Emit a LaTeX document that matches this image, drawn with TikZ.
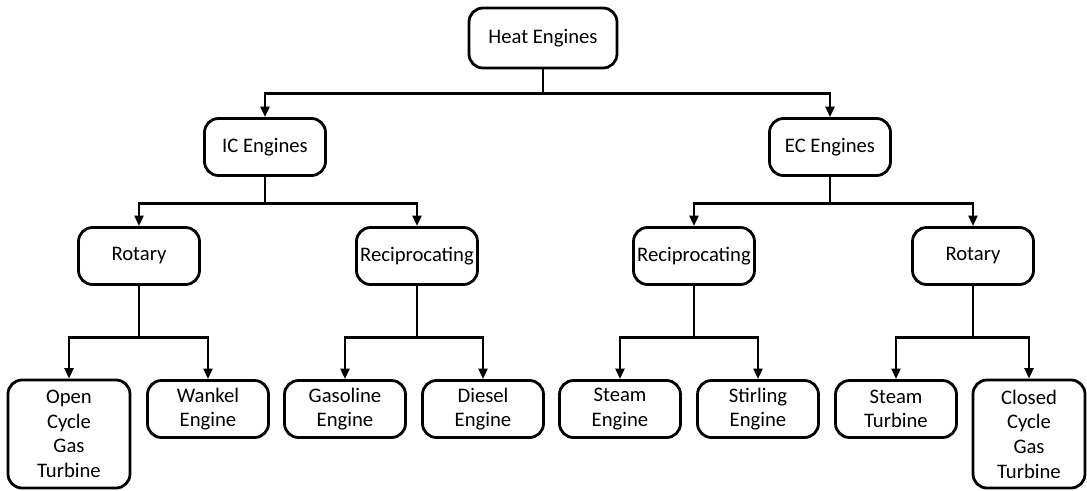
\documentclass[tikz,border=0pt]{standalone}
\usepackage{fontspec}
\setmainfont{Carlito}
\usetikzlibrary{arrows.meta,positioning}
\tikzset{
  >={Triangle[length=2.6mm,width=2.2mm]},
  box/.style={draw=black,line width=0.7mm,rounded corners=3.5mm,fill=white,
    minimum width=30.25mm,minimum height=14.25mm,align=center,inner sep=0pt,
    font=\fontsize{14.7}{17.5}\selectfont},
  tall box/.style={box,minimum height=27mm,minimum width=#1},
  tall box/.default=30.5mm,
  flow/.style={->,line width=0.7mm},
}
\begin{document}
\begin{tikzpicture}[x=0.25mm,y=-0.25mm]
  \useasboundingbox (0,0) rectangle (1087,490);
  % levels
  \node[box,minimum width=37mm,minimum height=15mm] (heat) at (543,38) {Heat Engines};
  \node[box] (ic) at (265,147) {IC Engines};
  \node[box] (ec) at (830,147) {EC Engines};
  \foreach \n/\x/\t in {rotL/139/Rotary,recL/417/Reciprocating,recR/694/Reciprocating,rotR/973/Rotary}
    \node[box] (\n) at (\x,256) {\t};
  % leaves
  \node[tall box] (open) at (69,434) {Open\\Cycle\\Gas\\Turbine};
  \node[tall box=28mm] (closed) at (1029,434) {Closed\\Cycle\\Gas\\Turbine};
  \foreach \n/\x/\t in {wankel/208/{Wankel\\Engine},gasoline/345/{Gasoline\\Engine},
      diesel/483/{Diesel\\Engine},steameng/620/{Steam\\Engine},
      stirling/758/{Stirling\\Engine},steamtur/896/{Steam\\Turbine}}
    \node[box] (\n) at (\x,409) {\t};
  % connectors
  \foreach \a/\b in {heat/ic,heat/ec}
    \draw[flow] (\a.south) -- ++(0,24) -| (\b.north);
  \foreach \a/\b in {ic/rotL,ic/recL,ec/recR,ec/rotR}
    \draw[flow] (\a.south) -- ++(0,26.5) -| (\b.north);
  \foreach \a/\b in {rotL/open,rotL/wankel,recL/gasoline,recL/diesel,
      recR/steameng,recR/stirling,rotR/steamtur,rotR/closed}
    \draw[flow] (\a.south) -- ++(0,51.5) -| (\b.north);
\end{tikzpicture}
\end{document}
